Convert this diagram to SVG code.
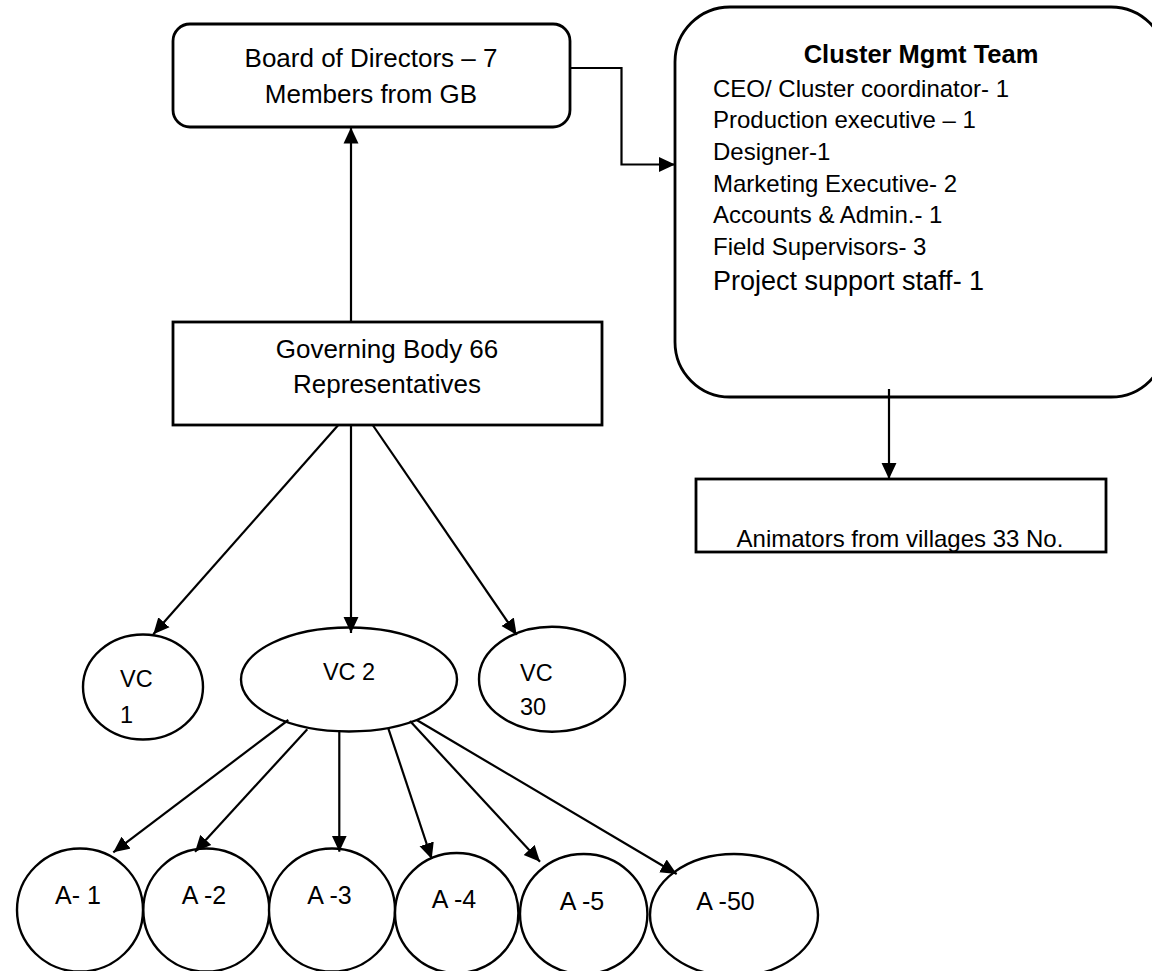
<svg xmlns="http://www.w3.org/2000/svg" width="1152" height="971" viewBox="0 0 1152 971">
<defs>
<marker id="ah" markerUnits="userSpaceOnUse" markerWidth="16" markerHeight="16" viewBox="0 0 15 14" refX="15" refY="7" orient="auto">
<path d="M0,0 L15,7 L0,14 z" fill="#000"/>
</marker>
</defs>
<style>
text{font-family:"Liberation Sans",Arial,sans-serif;fill:#000}
.box{fill:#fff;stroke:#000;stroke-width:2.8}
.ell{fill:#fff;stroke:#000;stroke-width:2.4}
.c{fill:none;stroke:#000;stroke-width:2.2;marker-end:url(#ah)}
.t26{font-size:26px}
.t24{font-size:24px}
.tv{font-size:23.5px}
.ta{font-size:25px}
.m{text-anchor:middle}
</style>
<rect width="1152" height="971" fill="#fff"/>

<g id="board">
<rect class="box" x="173" y="24" width="397" height="103" rx="17"/>
<text class="t26 m" x="371" y="67">Board of Directors – 7</text>
<text class="t26 m" x="371" y="103">Members from GB</text>
</g>

<g id="cluster">
<rect class="box" x="675" y="7" width="491" height="390" rx="55"/>
<text class="m" x="921" y="63" style="font-size:25.5px;font-weight:bold">Cluster Mgmt Team</text>
<text class="t24" x="713" y="97">CEO/ Cluster coordinator- 1</text>
<text class="t24" x="713" y="128">Production executive – 1</text>
<text class="t24" x="713" y="160">Designer-1</text>
<text class="t24" x="713" y="192">Marketing Executive- 2</text>
<text class="t24" x="713" y="223">Accounts &amp; Admin.- 1</text>
<text class="t24" x="713" y="255">Field Supervisors- 3</text>
<text x="713" y="290" style="font-size:27px">Project support staff- 1</text>
</g>

<g id="governing">
<rect class="box" x="173" y="322" width="429" height="103"/>
<text class="t26 m" x="387" y="358">Governing Body 66</text>
<text class="t26 m" x="387" y="393">Representatives</text>
</g>

<g id="animators">
<rect class="box" x="696" y="479" width="410" height="73"/>
<text class="t24 m" x="900" y="547">Animators from villages 33 No.</text>
</g>

<g id="vc1">
<ellipse class="ell" cx="143" cy="687" rx="60" ry="52.5"/>
<text class="tv" x="120" y="687">VC</text>
<text class="tv" x="120" y="723">1</text>
</g>
<g id="vc2">
<ellipse class="ell" cx="349" cy="679.5" rx="108" ry="52"/>
<text class="tv m" x="349" y="680">VC 2</text>
</g>
<g id="vc30">
<ellipse class="ell" cx="552" cy="679.2" rx="73" ry="52.5"/>
<text class="tv" x="520" y="681">VC</text>
<text class="tv" x="520" y="715">30</text>
</g>

<g id="a1">
<ellipse class="ell" cx="80" cy="910" rx="63" ry="61.5"/>
<text class="ta m" x="78" y="904">A- 1</text>
</g>
<g id="a2">
<ellipse class="ell" cx="206.3" cy="910" rx="63" ry="61.5"/>
<text class="ta m" x="204" y="904">A -2</text>
</g>
<g id="a3">
<ellipse class="ell" cx="332" cy="910" rx="63" ry="61.5"/>
<text class="ta m" x="329.5" y="904">A -3</text>
</g>
<g id="a4">
<ellipse class="ell" cx="456.7" cy="913" rx="61.7" ry="60"/>
<text class="ta m" x="454" y="908">A -4</text>
</g>
<g id="a5">
<ellipse class="ell" cx="583.7" cy="914" rx="63.7" ry="60"/>
<text class="ta m" x="582" y="910">A -5</text>
</g>
<g id="a50">
<ellipse class="ell" cx="734" cy="915" rx="84" ry="61"/>
<text class="ta m" x="725.5" y="910">A -50</text>
</g>

<g id="connectors">
<path class="c" d="M351,322 L351,127.5"/>
<path class="c" d="M570,68 L621.5,68 L621.5,164.5 L675,164.5"/>
<path class="c" d="M889,389 L889,479"/>
<path class="c" d="M338.3,425 L153.3,634.3"/>
<path class="c" d="M351,425 L351,633"/>
<path class="c" d="M372.7,425 L516.7,635"/>
<path class="c" d="M288.3,720 L113.3,852.3"/>
<path class="c" d="M307.3,729.3 L195,851.7"/>
<path class="c" d="M339.3,730 L339.3,851.7"/>
<path class="c" d="M388.3,728.3 L431.7,859"/>
<path class="c" d="M410,721 L540,861.7"/>
<path class="c" d="M416.7,720 L676.7,874"/>
</g>
</svg>
